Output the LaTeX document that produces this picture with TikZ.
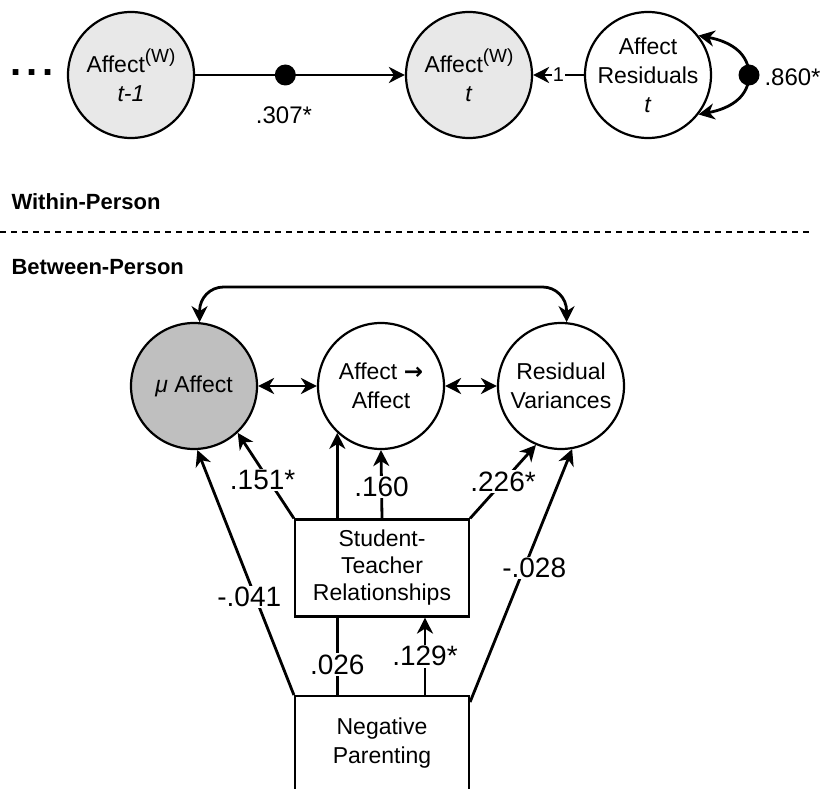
\documentclass[tikz,border=0pt]{standalone}
\usepackage{fontspec}
\setmainfont{Liberation Sans}
\newfontfamily\arrowfont{DejaVu Sans}
\usetikzlibrary{arrows.meta,backgrounds}

\newcommand{\wsup}{\raisebox{0.42em}{\fontsize{19}{19}\selectfont(W)}}

\begin{document}
\begin{tikzpicture}[x=1pt, y=-1pt,
  latent/.style={circle, draw, line width=2.2pt, minimum size=126pt, inner sep=0pt, align=center, font=\fontsize{23}{29}\selectfont},
  obs/.style={rectangle, draw, fill=white, line width=2.2pt, minimum width=174pt, align=center, font=\fontsize{23}{27}\selectfont},
  regr/.style={line width=2.8pt, -{Stealth[length=16pt,width=16pt,inset=5pt]}},
  cov/.style={line width=2.8pt, {Stealth[length=16pt,width=16pt,inset=5pt]}-{Stealth[length=16pt,width=16pt,inset=5pt]}},
  coef/.style={fill=white, inner sep=1.5pt, font=\fontsize{28}{30}\selectfont},
  vdot/.style={circle, fill=black, minimum size=21pt, inner sep=0pt},
  sect/.style={anchor=west, font=\fontsize{22}{24}\selectfont\bfseries}]
  \clip (0,0) rectangle (825,789);

  % within-person part
  \node (dots) at (32,73) {\fontsize{40}{40}\selectfont\bfseries .\hspace{4.5pt}.\hspace{4.5pt}.};
  \node[latent, fill=gray!18] (aw1) at (131,75) {Affect\wsup\\\textit{t-1}};
  \node[latent, fill=gray!18] (aw) at (469,75) {Affect\wsup\\\textit{t}};
  \node[latent] (res) at (648,75) {Affect\\Residuals\\\textit{t}};
  \draw[regr] (aw1) -- node[vdot, pos=0.43] (ar) {} (aw);
  \node[font=\fontsize{24}{24}\selectfont] (arlab) at (284,115) {.307*};
  \draw[regr] (res) -- node[coef, font=\fontsize{20}{20}\selectfont, inner sep=1pt] (one) {1} (aw);
  \coordinate (vr) at (749,75);
  \draw[cov] (res.38) .. controls (733,42) and (749,55) .. (vr) .. controls (749,95) and (733,108) .. (res.-38);
  \node[vdot] (vrdot) at (vr) {};
  \node[anchor=west, font=\fontsize{24}{24}\selectfont] (vrlab) at (761,77) {.860*};

  \node[sect] (within) at (8,202) {Within-Person};
  \coordinate (sepl) at (0,232);
  \coordinate (sepr) at (812,232);
  \draw[line width=1.5pt, dash pattern=on 6pt off 5pt] (sepl) -- (sepr);
  \node[sect] (between) at (8,267) {Between-Person};

  % between-person part
  \node[latent, fill=gray!50] (mu) at (194,386) {\textit{μ} Affect};
  \node[latent] (aa) at (381,386) {Affect {\arrowfont\bfseries →}\\Affect};
  \node[latent] (rv) at (561,386) {Residual\\Variances};
  \draw[cov] (mu) -- (aa);
  \draw[cov] (aa) -- (rv);
  \coordinate (top) at (383,287);
  \draw[cov, rounded corners=24pt] (mu.85) |- (top) -| (rv.85);

  \node[obs, minimum height=110pt, anchor=north,
    label={[align=center, font=\fontsize{23}{29}\selectfont, yshift=8pt]center:Negative\\Parenting}] (np) at (382,695) {};
  \begin{scope}[on background layer]
    \draw[regr] (aa.-133 |- np.north) -- node[coef, pos=0.115] (b026) {.026} (aa.-133);
  \end{scope}
  \node[obs, minimum height=97pt] (st) at (382,568) {Student-\\Teacher\\Relationships};

  \draw[regr] (st.north west) -- node[coef, pos=0.45, xshift=-6pt] (b151) {.151*} (mu.-47);
  \draw[regr] (st.north) -- node[coef, pos=0.46] (b160) {.160} (aa.south);
  \draw[regr] (st.north east) -- node[coef, pos=0.5] (b226) {.226*} (rv.-113);
  \draw[regr] (np.north west) -- node[coef, pos=0.4, xshift=-6pt] (b041) {-.041} (mu.-87);
  \draw[regr] ([yshift=-7pt]np.north east) -- node[coef, pos=0.53, xshift=10pt] (b028) {-.028} (rv.-80);
  \draw[regr] ([xshift=43pt]np.north) -- node[coef, pos=0.5] (b129) {.129*} ([xshift=43pt]st.south);
\end{tikzpicture}
\end{document}
